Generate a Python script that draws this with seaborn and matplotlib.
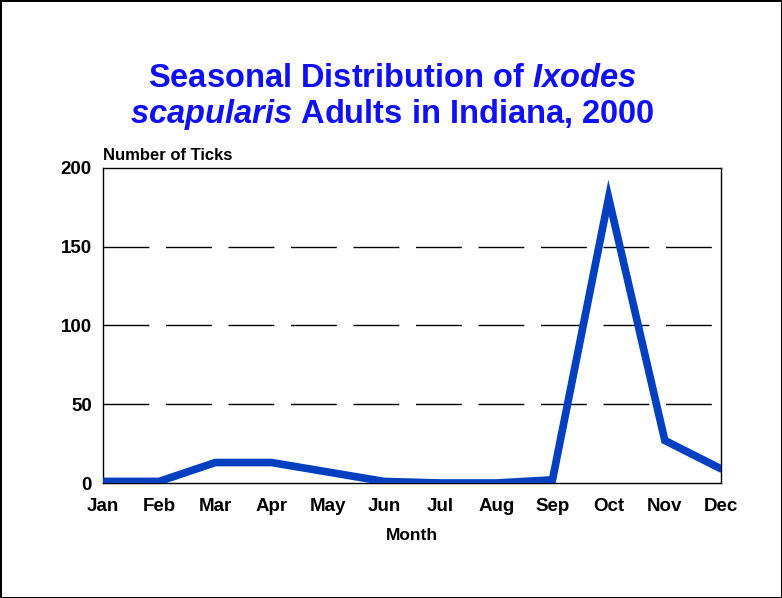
import pandas as pd
import matplotlib.pyplot as plt
import seaborn as sns

# monthly counts of adult ticks
months = ['Jan', 'Feb', 'Mar', 'Apr', 'May', 'Jun', 'Jul', 'Aug', 'Sep', 'Oct', 'Nov', 'Dec']
ticks = [1, 1, 13, 13, 7, 1, 0, 0, 2, 181, 27, 9]
y_ticks = [0, 50, 100, 150, 200]

df = pd.DataFrame({'pos': range(len(months)), 'month': months, 'ticks': ticks})

sns.set_style('white')
plt.rcParams['font.family'] = ['Liberation Sans', 'DejaVu Sans']
plt.rcParams['mathtext.fontset'] = 'custom'
plt.rcParams['mathtext.bfit'] = 'Liberation Sans:italic:bold'
plt.rcParams['mathtext.rm'] = 'Liberation Sans:bold'
plt.rcParams['text.color'] = 'black'

fig = plt.figure(figsize=(7.82, 5.98), dpi=100)
fig.patch.set_edgecolor('black')
fig.patch.set_linewidth(2)
ax = fig.add_axes([0.1317, 0.1923, 0.7903, 0.5268])

sns.lineplot(data=df, x='pos', y='ticks', color='#0040c0', linewidth=5.5,
             solid_capstyle='round', solid_joinstyle='miter', ax=ax, zorder=3)

ax.set_xlim(0, len(months) - 1)
ax.set_ylim(0, 200)
ax.set_xticks(df['pos'])
ax.set_xticklabels(months)
ax.set_yticks(y_ticks)
ax.tick_params(axis='both', length=0, labelsize=13.5, labelcolor='black')
ax.tick_params(axis='x', pad=11)
ax.tick_params(axis='y', pad=8)
for lbl in ax.get_xticklabels() + ax.get_yticklabels():
    lbl.set_fontweight('bold')

for v in y_ticks[1:-1]:
    ax.axhline(v, color='black', linewidth=1, dashes=(33, 12), dash_capstyle='butt', zorder=1)

for s in ax.spines.values():
    s.set_color('black')
    s.set_linewidth(1)
    s.set_visible(True)

ax.set_xlabel('Month', fontsize=12.5, fontweight='bold', labelpad=9, color='black')
ax.set_ylabel('')
fig.text(0.132, 0.728, 'Number of Ticks', fontsize=12, fontweight='bold', ha='left', va='bottom')

fig.text(0.502, 0.868, 'Seasonal Distribution of $\\mathbfit{Ixodes}$', fontsize=23.5, fontweight='bold',
         color='#1010f5', ha='center', va='center')
fig.text(0.502, 0.809, '$\\mathbfit{scapularis}$ Adults in Indiana, 2000', fontsize=23.5, fontweight='bold',
         color='#1010f5', ha='center', va='center')

fig.savefig('out.png', dpi=100)
